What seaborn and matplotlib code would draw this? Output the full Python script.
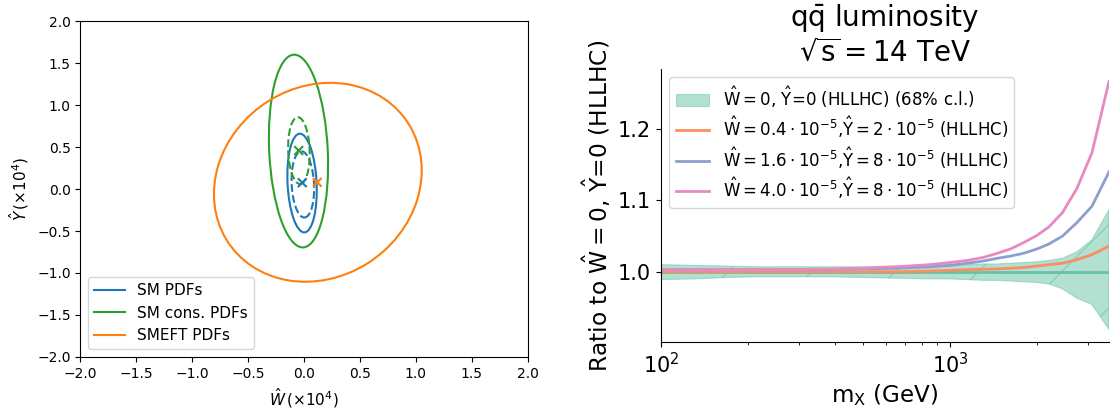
import numpy as np
import pandas as pd
import matplotlib
matplotlib.use("Agg")
import matplotlib.pyplot as plt
from matplotlib.patches import Ellipse
from matplotlib.lines import Line2D
import seaborn as sns

# --- left panel: 68% contours in the (W, Y) plane (units of 1e-4) ---
contour_names = ["SM PDFs", "SM cons. PDFs", "SMEFT PDFs"]
contour_colors = ["#1f77b4", "#2ca02c", "#ff7f0e"]
# best fit points
best_w = [-0.015, -0.047, 0.119]
best_y = [0.075, 0.458, 0.080]
# ellipses: centre, semi-axes, tilt (deg), style, colour index
ell_cx = [-0.017, -0.010, -0.049, -0.045, 0.124]
ell_cy = [0.071, 0.055, 0.452, 0.457, 0.080]
ell_sw = [0.130, 0.100, 0.262, 0.096, 0.913]
ell_sh = [0.588, 0.395, 1.148, 0.398, 1.197]
ell_ang = [2.0, 2.0, 2.0, 1.5, -13.0]
ell_ls = ["-", "--", "-", "--", "-"]
ell_col = [0, 0, 1, 1, 2]

# --- right panel: qqbar luminosity ratio ---
mx = [100, 130, 170, 220, 290, 380, 500, 650, 850, 1000, 1150, 1300,
      1460, 1620, 1800, 2000, 2200, 2450, 2750, 3100, 3550]
band_hi = [1.010, 1.009, 1.008, 1.007, 1.007, 1.007, 1.007, 1.008, 1.009,
           1.010, 1.010, 1.011, 1.011, 1.012, 1.013, 1.014, 1.016, 1.019,
           1.028, 1.045, 1.087]
band_lo = [0.989, 0.990, 0.992, 0.993, 0.993, 0.993, 0.992, 0.991, 0.990,
           0.990, 0.989, 0.988, 0.988, 0.987, 0.986, 0.985, 0.983, 0.976,
           0.963, 0.954, 0.919]
central = [1.0] * len(mx)
r_04_2 = [1.000, 1.000, 1.000, 1.000, 1.000, 1.000, 1.000, 1.000, 1.001,
          1.002, 1.003, 1.0035, 1.004, 1.005, 1.006, 1.008, 1.010, 1.012,
          1.017, 1.024, 1.036]
r_16_8 = [1.003, 1.003, 1.003, 1.003, 1.003, 1.0033, 1.004, 1.005, 1.007,
          1.009, 1.012, 1.015, 1.019, 1.022, 1.026, 1.032, 1.039, 1.050,
          1.069, 1.092, 1.140]
r_40_8 = [1.0025, 1.0027, 1.0027, 1.003, 1.0032, 1.0036, 1.005, 1.007,
          1.010, 1.013, 1.016, 1.020, 1.026, 1.032, 1.041, 1.051, 1.063,
          1.083, 1.117, 1.167, 1.267]
line_labels = [
    r"$\hat{\rm W}=0.4\cdot10^{-5}$,$\hat{\rm Y}=2\cdot10^{-5}$ (HLLHC)",
    r"$\hat{\rm W}=1.6\cdot10^{-5}$,$\hat{\rm Y}=8\cdot10^{-5}$ (HLLHC)",
    r"$\hat{\rm W}=4.0\cdot10^{-5}$,$\hat{\rm Y}=8\cdot10^{-5}$ (HLLHC)",
]
band_label = r"$\hat{\rm W}=0$, $\hat{\rm Y}$=0 (HLLHC) (68% c.l.)"

# rendered at high dpi (sparser hatching), so every size in points is scaled
DPI = 250
K = 100 / DPI
plt.rcParams.update({
    "axes.linewidth": 0.8 * K,
    "xtick.major.size": 3.5 * K, "ytick.major.size": 3.5 * K,
    "xtick.major.width": 0.8 * K, "ytick.major.width": 0.8 * K,
    "xtick.minor.size": 2.0 * K, "ytick.minor.size": 2.0 * K,
    "xtick.minor.width": 0.6 * K, "ytick.minor.width": 0.6 * K,
    "xtick.major.pad": 3.5 * K, "ytick.major.pad": 3.5 * K,
    "xtick.minor.pad": 3.4 * K, "ytick.minor.pad": 3.4 * K,
    "axes.labelpad": 4.0 * K,
    "axes.titlepad": 6.0 * K,
    "patch.linewidth": 1.0 * K,
    "hatch.linewidth": 1.0 * K,
    "lines.dashed_pattern": (3.7, 1.6),
})

set2 = sns.color_palette("Set2")

fig = plt.figure(figsize=(1112 / DPI, 415 / DPI), dpi=DPI)

# left
ax1 = fig.add_axes([0.0723, 0.1398, 0.4021, 0.8095])
for i in range(len(ell_cx)):
    e = Ellipse((ell_cx[i], ell_cy[i]), 2 * ell_sw[i], 2 * ell_sh[i],
                angle=ell_ang[i], fill=False, lw=1.5 * K, ls=ell_ls[i],
                edgecolor=contour_colors[ell_col[i]])
    ax1.add_patch(e)
pts = pd.DataFrame({"w": best_w, "y": best_y, "fit": contour_names})
sns.scatterplot(data=pts, x="w", y="y", hue="fit", palette=contour_colors,
                marker="x", s=40 * K * K, linewidth=1.5 * K, legend=False,
                ax=ax1)
ax1.set_xlim(-2, 2)
ax1.set_ylim(-2, 2)
ticks = [-2.0, -1.5, -1.0, -0.5, 0.0, 0.5, 1.0, 1.5, 2.0]
ax1.set_xticks(ticks)
ax1.set_yticks(ticks)
ax1.tick_params(labelsize=10 * K)
ax1.set_xlabel(r"$\hat{W}\,(\times 10^4)$", fontsize=11 * K)
ax1.set_ylabel(r"$\hat{Y}\,(\times 10^4)$", fontsize=11 * K)
handles = [Line2D([], [], color=c, lw=1.5 * K) for c in contour_colors]
ax1.legend(handles, contour_names, loc="lower left", fontsize=11 * K)

# right
ax2 = fig.add_axes([0.5944, 0.176, 0.4029, 0.6578])
band = ax2.fill_between(mx, band_lo, band_hi, facecolor=set2[0], alpha=0.5,
                        hatch="/", edgecolor=set2[0], lw=0.8 * K)
sns.lineplot(x=mx, y=central, color=set2[0], lw=2 * K, ax=ax2)
lines = []
for vals, col in zip([r_04_2, r_16_8, r_40_8], set2[1:4]):
    sns.lineplot(x=mx, y=vals, color=col, lw=2 * K, ax=ax2)
    lines.append(Line2D([], [], color=col, lw=2 * K))
ax2.set_xscale("log")
ax2.set_xlim(mx[0], mx[-1])
ax2.set_yticks([1.0, 1.1, 1.2])
ax2.tick_params(labelsize=15 * K)
ax2.set_xlabel(r"m$_{\rm X}$ (GeV)", fontsize=16.6 * K)
ax2.set_ylabel(r"Ratio to $\hat{\rm W}=0$, $\hat{\rm Y}$=0 (HLLHC)",
               fontsize=16.8 * K)
ax2.set_title("q$\\bar{\\rm q}$ luminosity\n$\\sqrt{\\rm s}=14$ TeV",
              fontsize=20 * K)
sns.despine(ax=ax2)
ax2.legend([band] + lines, [band_label] + line_labels, loc="upper left",
           fontsize=12 * K, labelspacing=0.3)

fig.savefig("out.png", dpi=DPI)
